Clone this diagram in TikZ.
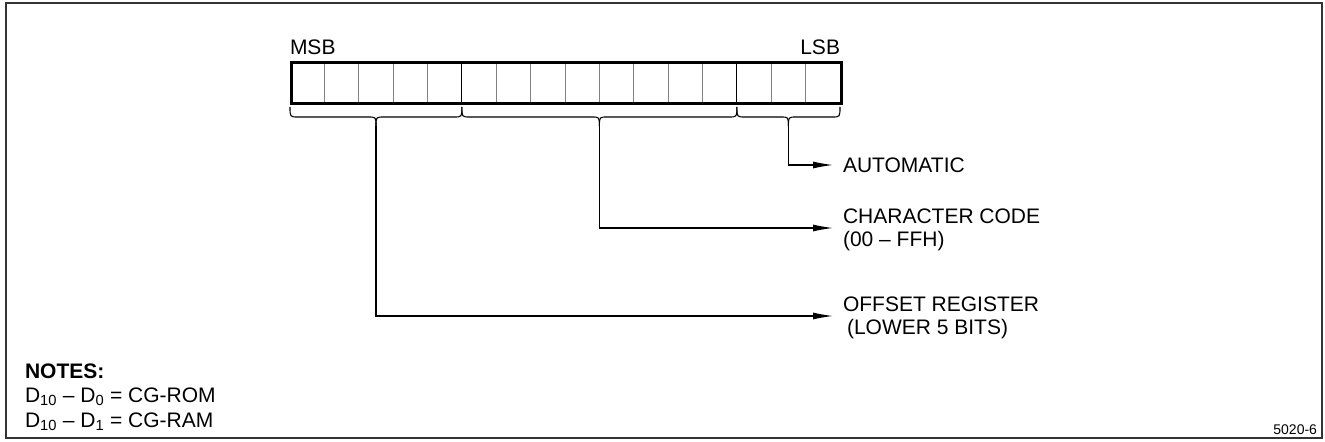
\documentclass[tikz,border=0pt]{standalone}
\usepackage{fontspec}
\setmainfont{Liberation Sans}
\usetikzlibrary{arrows.meta}
\begin{document}
\begin{tikzpicture}[x=1bp,y=-1bp,
  txt/.style={inner sep=0pt, outer sep=0pt, font=\fontsize{21bp}{23bp}\selectfont, align=left},
  small/.style={inner sep=0pt, outer sep=0pt, font=\fontsize{14bp}{16bp}\selectfont},
  conn/.style={line width=1.1bp, -{Latex[length=20bp,width=7bp]}},
  bracepath/.style={line width=1.1bp},
  cell/.style={line width=1bp, black!50},
  cellgrp/.style={line width=1bp, black},
  regbox/.style={line width=2.6bp},
  frame/.style={line width=1.5bp, black!80}]
\useasboundingbox (0,0) rectangle (1325,442);
\draw[frame] (6,3) rectangle (1322,438);
% register
\foreach \i in {1,2,3,4,6,7,8,9,10,11,12,14,15}
  \draw[cell] ({290+\i*34.375},61) -- ({290+\i*34.375},102);
\foreach \i in {5,13}
  \draw[cellgrp] ({290+\i*34.375},61) -- ({290+\i*34.375},102);
\node[regbox, draw, minimum width=550bp, minimum height=41bp, inner sep=0pt, anchor=north west] (reg) at (290,61) {};
\node[txt, anchor=base west] (msb) at (290,55) {MSB};
\node[txt, anchor=base east] (lsb) at (840,55) {LSB};
% braces
\draw[bracepath] (290,107) .. controls (290,117) .. (298,117) -- (368,117) .. controls (376,117) .. (376,126);
\draw[bracepath] (461.9,107) .. controls (461.9,117) .. (453.9,117) -- (384,117) .. controls (376,117) .. (376,126);
\draw[bracepath] (461.9,107) .. controls (461.9,117) .. (469.9,117) -- (591.4,117) .. controls (599.4,117) .. (599.4,126);
\draw[bracepath] (736.9,107) .. controls (736.9,117) .. (728.9,117) -- (607.4,117) .. controls (599.4,117) .. (599.4,126);
\draw[bracepath] (736.9,107) .. controls (736.9,117) .. (744.9,117) -- (780.4,117) .. controls (788.4,117) .. (788.4,126);
\draw[bracepath] (840,107) .. controls (840,117) .. (832,117) -- (796.4,117) .. controls (788.4,117) .. (788.4,126);
\coordinate (s1) at (376,126);
\coordinate (s2) at (599.4,126);
\coordinate (s3) at (788.4,126);
% labels
\node[txt, anchor=base west] (auto) at (843,173) {AUTOMATIC};
\node[txt, anchor=west] (cc) at (843,230) {CHARACTER CODE\\(00 \textendash\ FFH)};
\node[txt, anchor=west] (off) at (843,318) {OFFSET REGISTER\\\hspace{4bp}(LOWER 5 BITS)};
\coordinate (t3) at (833,165);
\coordinate (t2) at (833,228);
\coordinate (t1) at (833,316);
\draw[conn] (s3) |- (t3);
\draw[conn] (s2) |- (t2);
\draw[conn] (s1) |- (t1);
% notes
\node[txt, anchor=base west] (notes) at (25,378) {\bfseries NOTES:};
\node[txt, anchor=base west] (n1) at (25,402) {D\textsubscript{10} \textendash\ D\textsubscript{0} = CG-ROM};
\node[txt, anchor=base west] (n2) at (25,427) {D\textsubscript{10} \textendash\ D\textsubscript{1} = CG-RAM};
\node[small, anchor=base east] (fig) at (1317,434) {5020-6};
\end{tikzpicture}
\end{document}
